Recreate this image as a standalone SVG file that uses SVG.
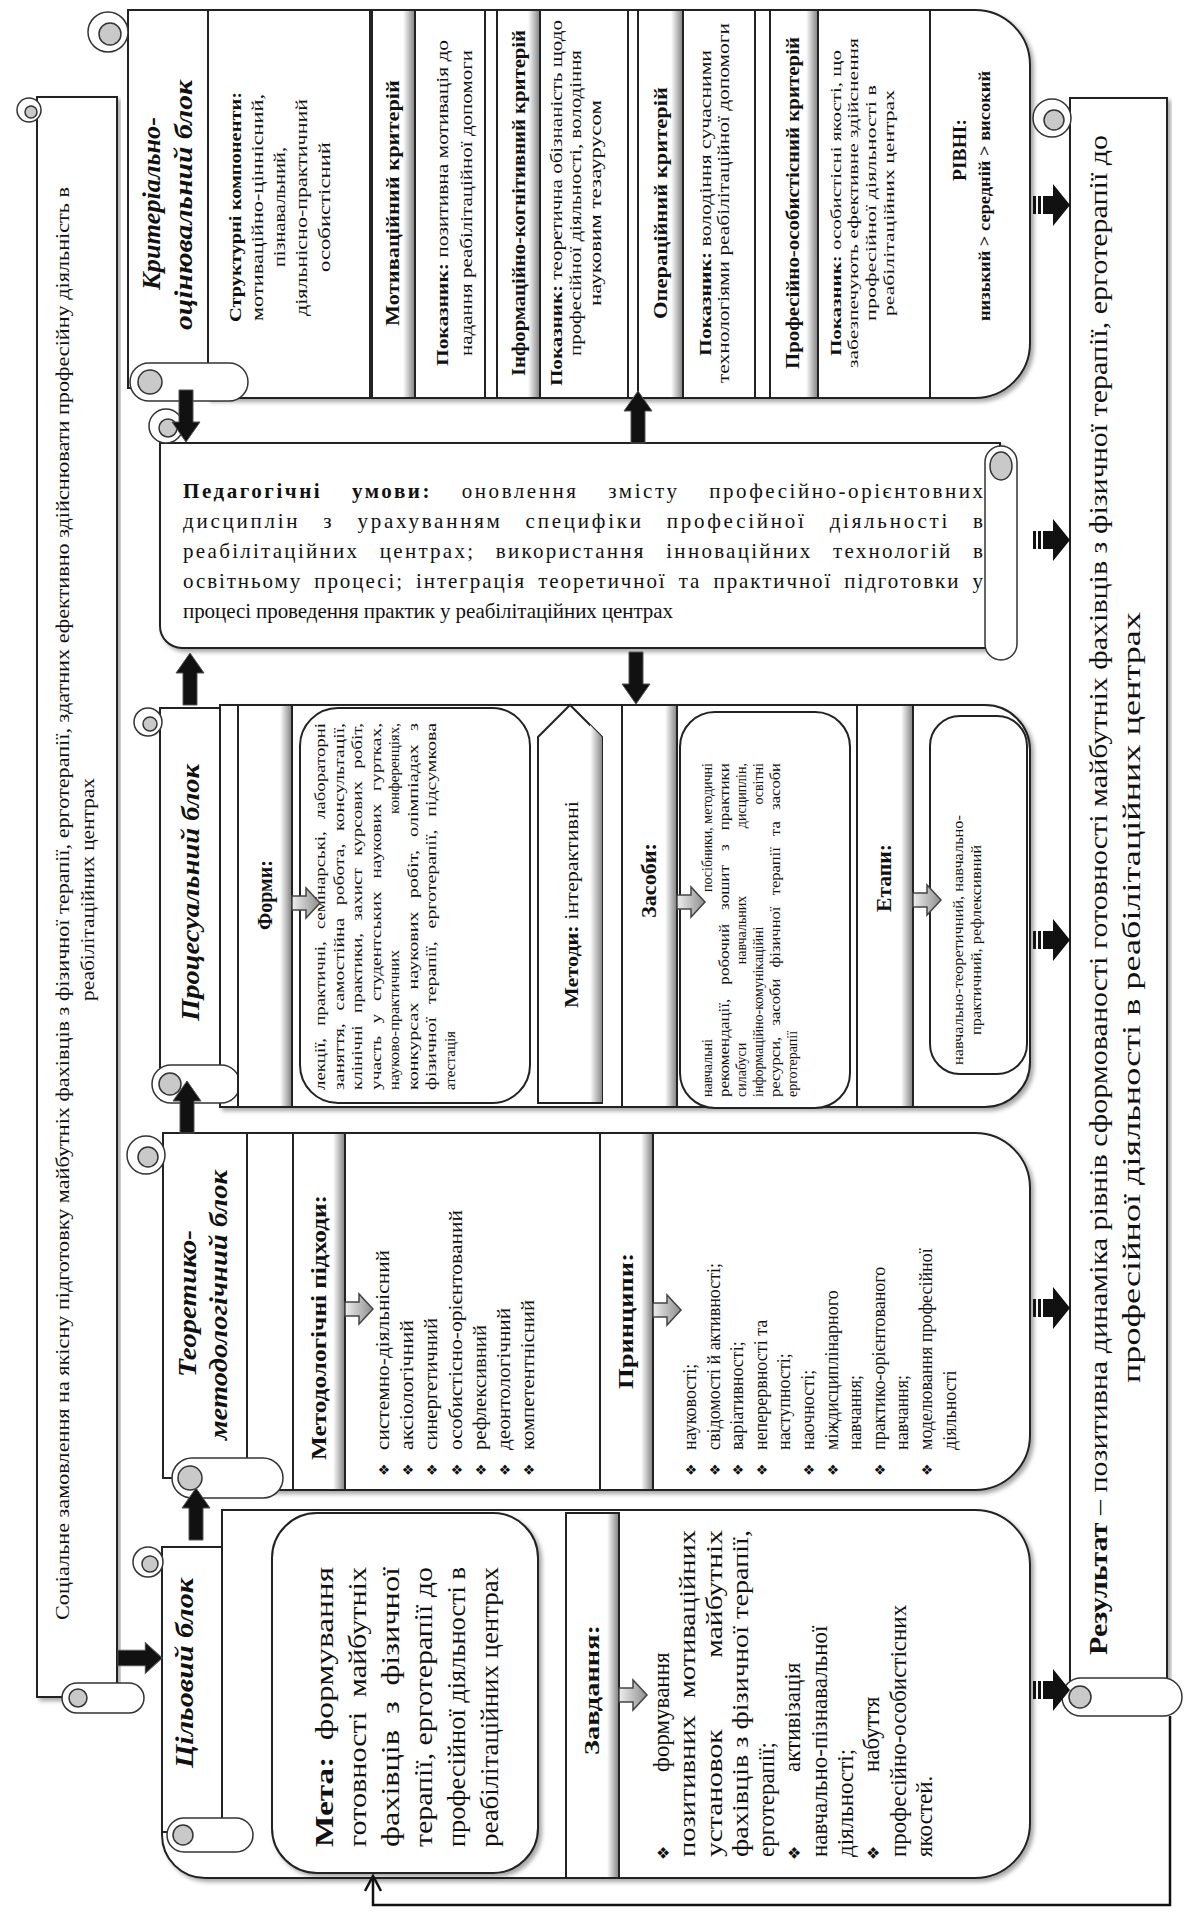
<svg xmlns="http://www.w3.org/2000/svg" width="1199" height="1919" viewBox="0 0 1199 1919">
<defs>
<style>
.t{font-family:"Liberation Serif","DejaVu Serif",serif;fill:#111}
.b{font-weight:bold}
.i{font-style:italic}
.fr{fill:#fff;stroke:#222;stroke-width:2}
.ln{fill:none;stroke:#222;stroke-width:2}
.hb{fill:#fff;stroke:#222;stroke-width:2}
.cg{fill:#c9c9c9;stroke:#333;stroke-width:1.5}
.cw{fill:#fff;stroke:#333;stroke-width:1.5}
.bu{font-family:"DejaVu Sans",sans-serif;fill:#111}
</style>
<linearGradient id="hs" x1="0" x2="1"><stop offset="0" stop-color="#fff"/><stop offset="1" stop-color="#8a8a8a"/></linearGradient>
<linearGradient id="ag" x1="0" x2="1"><stop offset="0" stop-color="#eee"/><stop offset="1" stop-color="#8d8d8d"/></linearGradient>
<filter id="sh" x="-5%" y="-5%" width="110%" height="110%"><feDropShadow dx="3" dy="3" stdDeviation="2" flood-color="#000" flood-opacity="0.35"/></filter>
<g id="ba"><polygon points="0,-7 32,-7 32,-14 52,0 32,14 32,7 0,7" fill="#111" stroke="#555" stroke-width="1"/></g>
<g id="ra"><rect x="0" y="-9" width="3" height="18" fill="#111"/><rect x="5" y="-9" width="3" height="18" fill="#111"/><polygon points="10,-9 20,-9 20,-21 37,0 20,21 20,9 10,9" fill="#111"/></g>
<g id="ha"><polygon points="0,-7 14,-7 14,-15 28,0 14,15 14,7 0,7" fill="url(#ag)" stroke="#444" stroke-width="1.5"/></g>
</defs>
<rect width="1199" height="1919" fill="#fff"/>

<g id="social">
<rect class="fr" filter="url(#sh)" x="37" y="97" width="80" height="1600"/>
<circle class="cw" cx="29" cy="110" r="12"/><circle class="cg" cx="31" cy="112" r="6"/>
<rect class="cw" x="62" y="1683" width="82" height="30" rx="15"/><ellipse class="cg" cx="78" cy="1698" rx="9" ry="9"/>
<text class="t" font-size="19" transform="translate(69,1620) rotate(-90)" textLength="1433" lengthAdjust="spacingAndGlyphs">Соціальне замовлення на якісну підготовку майбутніх фахівців з фізичної терапії, ерготерапії, здатних ефективно здійснювати професійну діяльність в</text>
<text class="t" font-size="19" transform="translate(94,1001) rotate(-90)" textLength="223" lengthAdjust="spacingAndGlyphs">реабілітаційних центрах</text>
</g>

<g id="crit">
<path class="fr" filter="url(#sh)" d="M208,10 H975 A55,55 0 0 1 1030,65 V343 A55,55 0 0 1 975,398 H208 Z"/>
<rect class="fr" x="128" y="10" width="80" height="378"/>
<circle class="cw" cx="108" cy="32" r="20"/><circle class="cg" cx="110" cy="34" r="11"/>
<rect class="cw" x="130" y="363" width="118" height="38" rx="19"/><ellipse class="cg" cx="150" cy="382" rx="12" ry="12"/>
<line class="ln" x1="370" y1="10" x2="370" y2="398"/>
<line class="ln" x1="485" y1="10" x2="485" y2="398"/>
<line class="ln" x1="628" y1="10" x2="628" y2="398"/>
<line class="ln" x1="755" y1="10" x2="755" y2="398"/>
<line class="ln" x1="930" y1="10" x2="930" y2="398"/>
<rect class="hb" x="372" y="10" width="43" height="388"/><rect x="403" y="11" width="11" height="386" fill="url(#hs)"/>
<rect class="hb" x="497" y="10" width="43" height="388"/><rect x="528" y="11" width="11" height="386" fill="url(#hs)"/>
<rect class="hb" x="638" y="10" width="45" height="388"/><rect x="671" y="11" width="11" height="386" fill="url(#hs)"/>
<rect class="hb" x="770" y="10" width="48" height="388"/><rect x="806" y="11" width="11" height="386" fill="url(#hs)"/>
<text class="t b i" font-size="26" transform="translate(160,290) rotate(-90)" textLength="173" lengthAdjust="spacingAndGlyphs">Критеріально-</text>
<text class="t b i" font-size="26" transform="translate(192,330) rotate(-90)" textLength="250" lengthAdjust="spacingAndGlyphs">оцінювальний блок</text>
<text class="t b" font-size="17" transform="translate(241,322) rotate(-90)" textLength="230" lengthAdjust="spacingAndGlyphs">Структурні компоненти:</text>
<text class="t" font-size="17" transform="translate(263,321) rotate(-90)" textLength="227" lengthAdjust="spacingAndGlyphs">мотиваційно-ціннісний,</text>
<text class="t" font-size="17" transform="translate(285,267) rotate(-90)" textLength="120" lengthAdjust="spacingAndGlyphs">пізнавальний,</text>
<text class="t" font-size="17" transform="translate(307,316) rotate(-90)" textLength="217" lengthAdjust="spacingAndGlyphs">діяльнісно-практичний</text>
<text class="t" font-size="17" transform="translate(330,272) rotate(-90)" textLength="130" lengthAdjust="spacingAndGlyphs">особистісний</text>
<text class="t b" font-size="18" transform="translate(399,326) rotate(-90)" textLength="246" lengthAdjust="spacingAndGlyphs">Мотиваційний критерій</text>
<text class="t b" font-size="18" transform="translate(525,376) rotate(-90)" textLength="346" lengthAdjust="spacingAndGlyphs">Інформаційно-когнітивний критерій</text>
<text class="t b" font-size="18" transform="translate(667,319) rotate(-90)" textLength="232" lengthAdjust="spacingAndGlyphs">Операційний критерій</text>
<text class="t b" font-size="18" transform="translate(799,369) rotate(-90)" textLength="332" lengthAdjust="spacingAndGlyphs">Професійно-особистісний критерій</text>
<text class="t" font-size="16" transform="translate(448,366) rotate(-90)" textLength="326" lengthAdjust="spacingAndGlyphs"><tspan class="b">Показник:</tspan> позитивна мотивація до</text>
<text class="t" font-size="16" transform="translate(472,356) rotate(-90)" textLength="306" lengthAdjust="spacingAndGlyphs">надання реабілітаційної допомоги</text>
<text class="t" font-size="16" transform="translate(562,386) rotate(-90)" textLength="366" lengthAdjust="spacingAndGlyphs"><tspan class="b">Показник:</tspan> теоретична обізнаність щодо</text>
<text class="t" font-size="16" transform="translate(581,356) rotate(-90)" textLength="306" lengthAdjust="spacingAndGlyphs">професійної діяльності, володіння</text>
<text class="t" font-size="16" transform="translate(601,306) rotate(-90)" textLength="206" lengthAdjust="spacingAndGlyphs">науковим тезаурусом</text>
<text class="t" font-size="16" transform="translate(711,356) rotate(-90)" textLength="306" lengthAdjust="spacingAndGlyphs"><tspan class="b">Показник:</tspan> володіння сучасними</text>
<text class="t" font-size="16" transform="translate(729,383) rotate(-90)" textLength="360" lengthAdjust="spacingAndGlyphs">технологіями реабілітаційної допомоги</text>
<text class="t" font-size="15" transform="translate(841,356) rotate(-90)" textLength="306" lengthAdjust="spacingAndGlyphs"><tspan class="b">Показник:</tspan> особистісні якості, що</text>
<text class="t" font-size="15" transform="translate(858,368) rotate(-90)" textLength="330" lengthAdjust="spacingAndGlyphs">забезпечують ефективне здійснення</text>
<text class="t" font-size="15" transform="translate(876,321) rotate(-90)" textLength="236" lengthAdjust="spacingAndGlyphs">професійної діяльності в</text>
<text class="t" font-size="15" transform="translate(894,316) rotate(-90)" textLength="226" lengthAdjust="spacingAndGlyphs">реабілітаційних центрах</text>
<text class="t b" font-size="18" transform="translate(966,181) rotate(-90)" textLength="62" lengthAdjust="spacingAndGlyphs">РІВНІ:</text>
<text class="t b" font-size="16" transform="translate(990,321) rotate(-90)" textLength="250" lengthAdjust="spacingAndGlyphs">низький &gt; середній &gt; високий</text>
</g>

<g id="ped">
<path class="fr" filter="url(#sh)" d="M160,443 H1000 V648 H182 A22,22 0 0 1 160,626 Z"/>
<circle class="cw" cx="166" cy="426" r="17"/><circle class="cg" cx="168" cy="428" r="9"/>
<rect class="cw" x="985" y="446" width="32" height="214" rx="16"/><ellipse class="cg" cx="1001" cy="466" rx="11" ry="14"/>
<text class="t" font-size="21" x="183" y="498" word-spacing="22" textLength="800" lengthAdjust="spacing"><tspan class="b">Педагогічні умови:</tspan> оновлення змісту професійно-орієнтовних</text>
<text class="t" font-size="21" x="183" y="528" word-spacing="15" textLength="800" lengthAdjust="spacing">дисциплін з урахуванням специфіки професійної діяльності в</text>
<text class="t" font-size="21" x="183" y="558" word-spacing="13" textLength="800" lengthAdjust="spacing">реабілітаційних центрах; використання інноваційних технологій в</text>
<text class="t" font-size="21" x="183" y="588" word-spacing="5" textLength="800" lengthAdjust="spacing">освітньому процесі; інтеграція теоретичної та практичної підготовки у</text>
<text class="t" font-size="21" x="183" y="618" textLength="490" lengthAdjust="spacing">процесі проведення практик у реабілітаційних центрах</text>
</g>

<g id="proc">
<path class="fr" filter="url(#sh)" d="M220,705 H985 A45,45 0 0 1 1030,750 V1062 A45,45 0 0 1 985,1107 H220 Z"/>
<rect class="fr" x="160" y="708" width="60" height="370"/>
<circle class="cw" cx="148" cy="722" r="14"/><circle class="cg" cx="150" cy="724" r="7"/>
<rect class="cw" x="152" y="1065" width="88" height="38" rx="19"/><ellipse class="cg" cx="170" cy="1084" rx="11" ry="11"/>
<rect class="hb" x="238" y="705" width="54" height="402"/><rect x="280" y="706" width="11" height="400" fill="url(#hs)"/>
<rect class="fr" x="300" y="708" width="230" height="395" rx="38"/>
<polygon class="hb" points="538,737 570,705 602,737 602,1103 538,1103"/><polygon points="590,725 602,737 602,1102 590,1102" fill="url(#hs)"/>
<rect class="hb" x="622" y="705" width="55" height="402"/><rect x="665" y="706" width="11" height="400" fill="url(#hs)"/>
<rect class="fr" x="680" y="712" width="170" height="396" rx="35"/>
<rect class="hb" x="857" y="705" width="56" height="402"/><rect x="901" y="706" width="11" height="400" fill="url(#hs)"/>
<rect class="fr" x="930" y="716" width="97" height="358" rx="30"/>
<text class="t b i" font-size="26" transform="translate(199,1021) rotate(-90)" textLength="257" lengthAdjust="spacingAndGlyphs">Процесуальний блок</text>
<text class="t b" font-size="20" transform="translate(272,930) rotate(-90)" textLength="70" lengthAdjust="spacingAndGlyphs">Форми:</text>
<g class="t" font-size="15">
<text transform="translate(325,1090) rotate(-90)" word-spacing="6" textLength="367" lengthAdjust="spacingAndGlyphs">лекції, практичні, семінарські, лабораторні</text>
<text transform="translate(343.5,1090) rotate(-90)" word-spacing="6" textLength="367" lengthAdjust="spacingAndGlyphs">заняття, самостійна робота, консультації,</text>
<text transform="translate(362,1090) rotate(-90)" word-spacing="6" textLength="367" lengthAdjust="spacingAndGlyphs">клінічні практики, захист курсових робіт,</text>
<text transform="translate(380.5,1090) rotate(-90)" word-spacing="6" textLength="367" lengthAdjust="spacingAndGlyphs">участь у студентських наукових гуртках,</text>
<text transform="translate(399,1090) rotate(-90)" textLength="140" lengthAdjust="spacingAndGlyphs">науково-практичних</text>
<text text-anchor="end" transform="translate(399,723) rotate(-90)">конференціях,</text>
<text transform="translate(417.5,1090) rotate(-90)" word-spacing="6" textLength="367" lengthAdjust="spacingAndGlyphs">конкурсах наукових робіт, олімпіадах з</text>
<text transform="translate(436,1090) rotate(-90)" word-spacing="6" textLength="367" lengthAdjust="spacingAndGlyphs">фізичної терапії, ерготерапії, підсумкова</text>
<text transform="translate(454.5,1090) rotate(-90)">атестація</text>
</g>
<text class="t" font-size="18" transform="translate(578,1008) rotate(-90)" textLength="207" lengthAdjust="spacingAndGlyphs"><tspan class="b">Методи:</tspan> інтерактивні</text>
<text class="t b" font-size="20" transform="translate(656,918) rotate(-90)" textLength="75" lengthAdjust="spacingAndGlyphs">Засоби:</text>
<g class="t" font-size="14">
<text transform="translate(712,1097) rotate(-90)">навчальні</text>
<text text-anchor="end" transform="translate(712,763) rotate(-90)">посібники, методичні</text>
<text transform="translate(729,1097) rotate(-90)" word-spacing="8" textLength="334" lengthAdjust="spacingAndGlyphs">рекомендації, робочий зошит з практики</text>
<text transform="translate(746,1097) rotate(-90)">силабуси</text>
<text text-anchor="middle" transform="translate(746,930) rotate(-90)">навчальних</text>
<text text-anchor="end" transform="translate(746,763) rotate(-90)">дисциплін,</text>
<text transform="translate(763,1097) rotate(-90)">інформаційно-комунікаційні</text>
<text text-anchor="end" transform="translate(763,763) rotate(-90)">освітні</text>
<text transform="translate(780,1097) rotate(-90)" word-spacing="6" textLength="334" lengthAdjust="spacingAndGlyphs">ресурси, засоби фізичної терапії та засоби</text>
<text transform="translate(797,1097) rotate(-90)">ерготерапії</text>
</g>
<text class="t b" font-size="20" transform="translate(891,912) rotate(-90)" textLength="68" lengthAdjust="spacingAndGlyphs">Етапи:</text>
<text class="t" font-size="15" transform="translate(963,1065) rotate(-90)" textLength="250" lengthAdjust="spacingAndGlyphs">навчально-теоретичний, навчально-</text>
<text class="t" font-size="15" transform="translate(981,1035) rotate(-90)" textLength="190" lengthAdjust="spacingAndGlyphs">практичний, рефлексивний</text>
</g>

<g id="theor">
<path class="fr" filter="url(#sh)" d="M247,1133 H975 A55,55 0 0 1 1030,1188 V1435 A55,55 0 0 1 975,1490 H247 Z"/>
<rect class="fr" x="163" y="1133" width="84" height="345"/>
<circle class="cw" cx="146" cy="1155" r="19"/><circle class="cg" cx="148" cy="1157" r="10"/>
<rect class="cw" x="172" y="1458" width="111" height="40" rx="20"/><ellipse class="cg" cx="190" cy="1478" rx="12" ry="12"/>
<rect class="hb" x="293" y="1133" width="52" height="357"/><rect x="333" y="1134" width="11" height="355" fill="url(#hs)"/>
<rect class="hb" x="600" y="1133" width="53" height="357"/><rect x="641" y="1134" width="11" height="355" fill="url(#hs)"/>
<text class="t b i" font-size="26" transform="translate(196,1377) rotate(-90)" textLength="147" lengthAdjust="spacingAndGlyphs">Теоретико-</text>
<text class="t b i" font-size="26" transform="translate(227,1440) rotate(-90)" textLength="270" lengthAdjust="spacingAndGlyphs">методологічний блок</text>
<text class="t b" font-size="20" transform="translate(326,1460) rotate(-90)" textLength="265" lengthAdjust="spacingAndGlyphs">Методологічні підходи:</text>
<g class="bu" font-size="14">
<text transform="translate(389,1476) rotate(-90)">❖</text>
<text transform="translate(413,1476) rotate(-90)">❖</text>
<text transform="translate(437,1476) rotate(-90)">❖</text>
<text transform="translate(462,1476) rotate(-90)">❖</text>
<text transform="translate(486,1476) rotate(-90)">❖</text>
<text transform="translate(510,1476) rotate(-90)">❖</text>
<text transform="translate(534,1476) rotate(-90)">❖</text>
</g>
<g class="t" font-size="19">
<text transform="translate(389,1450) rotate(-90)" textLength="200" lengthAdjust="spacingAndGlyphs">системно-діяльнісний</text>
<text transform="translate(413,1450) rotate(-90)" textLength="130" lengthAdjust="spacingAndGlyphs">аксіологічний</text>
<text transform="translate(437,1450) rotate(-90)" textLength="132" lengthAdjust="spacingAndGlyphs">синергетичний</text>
<text transform="translate(462,1450) rotate(-90)" textLength="240" lengthAdjust="spacingAndGlyphs">особистісно-орієнтований</text>
<text transform="translate(486,1450) rotate(-90)" textLength="125" lengthAdjust="spacingAndGlyphs">рефлексивний</text>
<text transform="translate(510,1450) rotate(-90)" textLength="142" lengthAdjust="spacingAndGlyphs">деонтологічний</text>
<text transform="translate(534,1450) rotate(-90)" textLength="150" lengthAdjust="spacingAndGlyphs">компетентнісний</text>
</g>
<text class="t b" font-size="20" transform="translate(633,1389) rotate(-90)" textLength="136" lengthAdjust="spacingAndGlyphs">Принципи:</text>
<g class="bu" font-size="14">
<text transform="translate(696,1476) rotate(-90)">❖</text>
<text transform="translate(720,1476) rotate(-90)">❖</text>
<text transform="translate(743,1476) rotate(-90)">❖</text>
<text transform="translate(767,1476) rotate(-90)">❖</text>
<text transform="translate(814,1476) rotate(-90)">❖</text>
<text transform="translate(838,1476) rotate(-90)">❖</text>
<text transform="translate(885,1476) rotate(-90)">❖</text>
<text transform="translate(932,1476) rotate(-90)">❖</text>
</g>
<g class="t" font-size="18">
<text transform="translate(696,1450) rotate(-90)">науковості;</text>
<text transform="translate(720,1450) rotate(-90)">свідомості й активності;</text>
<text transform="translate(743,1450) rotate(-90)">варіативності;</text>
<text transform="translate(767,1450) rotate(-90)">неперервності та</text>
<text transform="translate(790,1450) rotate(-90)">наступності;</text>
<text transform="translate(814,1450) rotate(-90)">наочності;</text>
<text transform="translate(838,1450) rotate(-90)">міждисциплінарного</text>
<text transform="translate(861,1450) rotate(-90)">навчання;</text>
<text transform="translate(885,1450) rotate(-90)">практико-орієнтованого</text>
<text transform="translate(908,1450) rotate(-90)">навчання;</text>
<text transform="translate(932,1450) rotate(-90)">моделювання професійної</text>
<text transform="translate(956,1450) rotate(-90)">діяльності</text>
</g>
</g>

<g id="goal">
<path class="fr" filter="url(#sh)" d="M222,1510 H975 A55,55 0 0 1 1030,1565 V1823 A55,55 0 0 1 975,1878 H205 A43,43 0 0 1 162,1835 V1547 H222 Z"/>
<rect class="fr" x="162" y="1547" width="60" height="285"/>
<circle class="cw" cx="148" cy="1562" r="15"/><circle class="cg" cx="150" cy="1564" r="8"/>
<rect class="cw" x="167" y="1818" width="86" height="34" rx="17"/><ellipse class="cg" cx="183" cy="1835" rx="10" ry="10"/>
<rect class="fr" filter="url(#sh)" x="272" y="1513" width="266" height="360" rx="45" stroke-width="3"/>
<rect class="hb" x="566" y="1513" width="53" height="365"/><rect x="607" y="1514" width="11" height="363" fill="url(#hs)"/>
<text class="t b i" font-size="26" transform="translate(193,1768) rotate(-90)" textLength="190" lengthAdjust="spacingAndGlyphs">Цільовий блок</text>
<g class="t" font-size="25">
<text transform="translate(333,1847) rotate(-90)" word-spacing="6" textLength="280" lengthAdjust="spacingAndGlyphs"><tspan class="b">Мета:</tspan> формування</text>
<text transform="translate(366,1847) rotate(-90)" word-spacing="6" textLength="280" lengthAdjust="spacingAndGlyphs">готовності майбутніх</text>
<text transform="translate(399,1847) rotate(-90)" word-spacing="6" textLength="280" lengthAdjust="spacingAndGlyphs">фахівців з фізичної</text>
<text transform="translate(432,1847) rotate(-90)" textLength="280" lengthAdjust="spacingAndGlyphs">терапії, ерготерапії до</text>
<text transform="translate(465,1847) rotate(-90)" textLength="280" lengthAdjust="spacingAndGlyphs">професійної діяльності в</text>
<text transform="translate(498,1847) rotate(-90)" textLength="280" lengthAdjust="spacingAndGlyphs">реабілітаційних центрах</text>
</g>
<text class="t b" font-size="20" transform="translate(599,1755) rotate(-90)" textLength="130" lengthAdjust="spacingAndGlyphs">Завдання:</text>
<g class="bu" font-size="16">
<text transform="translate(669,1860) rotate(-90)">❖</text>
<text transform="translate(800,1860) rotate(-90)">❖</text>
<text transform="translate(879,1860) rotate(-90)">❖</text>
</g>
<g class="t" font-size="23">
<text transform="translate(669,1772) rotate(-90)">формування</text>
<text transform="translate(695,1857) rotate(-90)" word-spacing="8" textLength="327" lengthAdjust="spacingAndGlyphs">позитивних мотиваційних</text>
<text transform="translate(722,1857) rotate(-90)" word-spacing="50" textLength="327" lengthAdjust="spacingAndGlyphs">установок майбутніх</text>
<text transform="translate(748,1857) rotate(-90)" textLength="327" lengthAdjust="spacingAndGlyphs">фахівців з фізичної терапії,</text>
<text transform="translate(774,1857) rotate(-90)">ерготерапії;</text>
<text transform="translate(800,1772) rotate(-90)">активізація</text>
<text transform="translate(827,1857) rotate(-90)">навчально-пізнавальної</text>
<text transform="translate(853,1857) rotate(-90)">діяльності;</text>
<text transform="translate(879,1772) rotate(-90)">набуття</text>
<text transform="translate(906,1857) rotate(-90)">професійно-особистісних</text>
<text transform="translate(932,1857) rotate(-90)">якостей.</text>
</g>
</g>

<g id="result">
<rect class="fr" filter="url(#sh)" x="1070" y="98" width="97" height="1600"/>
<circle class="cw" cx="1052" cy="118" r="19"/><circle class="cg" cx="1054" cy="120" r="10"/>
<rect class="cw" x="1062" y="1678" width="120" height="38" rx="19"/><ellipse class="cg" cx="1080" cy="1697" rx="11" ry="11"/>
<text class="t" font-size="26" transform="translate(1107,1655) rotate(-90)" textLength="1520" lengthAdjust="spacingAndGlyphs"><tspan class="b">Результат</tspan> – позитивна динаміка рівнів сформованості  готовності майбутніх фахівців з фізичної терапії, ерготерапії до</text>
<text class="t" font-size="26" transform="translate(1140,1383) rotate(-90)" textLength="771" lengthAdjust="spacingAndGlyphs">професійної діяльності в реабілітаційних центрах</text>
</g>

<g id="connectors">
<use href="#ba" transform="translate(186,390) rotate(90)"/>
<use href="#ba" transform="translate(638,443) rotate(-90)"/>
<use href="#ba" transform="translate(190,705) rotate(-90)"/>
<use href="#ba" transform="translate(636,652) rotate(90)"/>
<use href="#ba" transform="translate(187,1133) rotate(-90)"/>
<use href="#ba" transform="translate(196,1540) rotate(-90)"/>
<use href="#ba" transform="translate(118,1658) scale(0.85,1.1)"/>
<use href="#ra" transform="translate(1033,205)"/>
<use href="#ra" transform="translate(1033,540)"/>
<use href="#ra" transform="translate(1033,940)"/>
<use href="#ra" transform="translate(1033,1308)"/>
<use href="#ra" transform="translate(1033,1690)"/>
<use href="#ha" transform="translate(292,903)"/>
<use href="#ha" transform="translate(677,902)"/>
<use href="#ha" transform="translate(913,900)"/>
<use href="#ha" transform="translate(345,1309)"/>
<use href="#ha" transform="translate(653,1310)"/>
<use href="#ha" transform="translate(619,1695)"/>
<polyline points="1170,1716 1170,1905 373,1905 373,1877" fill="none" stroke="#111" stroke-width="2.5"/>
<polyline points="365,1891 373,1876 381,1891" fill="none" stroke="#111" stroke-width="2.5"/>
</g>
</svg>
